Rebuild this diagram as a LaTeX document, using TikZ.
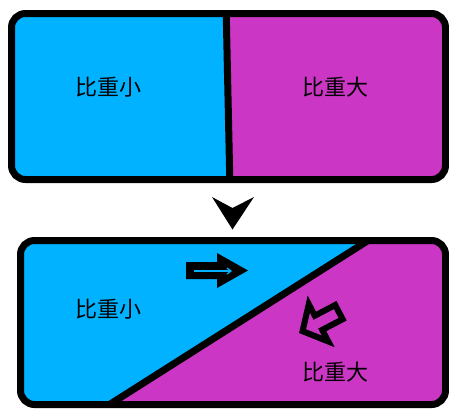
\documentclass[tikz,border=0pt]{standalone}
\usepackage{fontspec}
\newfontfamily\cjk{Noto Sans CJK SC}
\usetikzlibrary{arrows.meta}
\definecolor{lblue}{RGB}{0,178,255}
\definecolor{lmag}{RGB}{204,54,196}
\begin{document}
\begin{tikzpicture}[x=1pt,y=-1pt,line join=miter]
\tikzset{
  lbl/.style={font=\cjk\fontsize{22}{22}\selectfont, inner sep=0pt, text=black},
  frame/.style={line width=7pt, rounded corners=14pt},
  divider/.style={line width=7pt},
  hollowarrow/.style={line width=6pt, draw=black, line join=miter}
}
\useasboundingbox (0,0) rectangle (449,408);
% ---------- top box ----------
\begin{scope}
  \clip[rounded corners=14pt] (11.5,13.5) rectangle (445.5,179.5);
  \fill[lblue] (0,0) -- (226.3,0) -- (229.7,190) -- (0,190) -- cycle;
  \fill[lmag] (226.3,0) -- (449,0) -- (449,190) -- (229.7,190) -- cycle;
  \draw[divider] (226.1,8) -- (229.9,185);
\end{scope}
\draw[frame] (11.5,13.5) rectangle (445.5,179.5);
\node[lbl] (t1) at (108,87) {比重小};
\node[lbl] (t2) at (335,87) {比重大};
% ---------- down arrowhead ----------
\fill (212,197) -- (232.5,208) -- (254,197) -- (232.5,229.5) -- cycle;
% ---------- bottom box ----------
\begin{scope}
  \clip[rounded corners=14pt] (20.5,240.5) rectangle (445.5,404.5);
  \fill[lblue] (0,230) rectangle (449,408);
  \fill[lmag] (368,240.5) -- (449,240.5) -- (449,408) -- (108.6,404.5) -- cycle;
  \draw[divider] (372,238) -- (104,408);
\end{scope}
\draw[frame] (20.5,240.5) rectangle (445.5,404.5);
% right arrow
\fill (186,262) -- (217,262) -- (217,253) -- (248,270.5) -- (217,288) -- (217,279) -- (186,279) -- cycle;
\draw[lblue, line width=1.2pt, -{Straight Barb[length=4pt,width=6pt]}] (194,271) -- (232,271);
% hollow arrow
\begin{scope}[shift={(299,333)}, x={(-0.887pt,-0.464pt)}, y={(0.464pt,-0.887pt)}]
  \draw[hollowarrow] (-4,0) -- (-22,-21) -- (-22,-8) -- (-45,-8) -- (-45,8) -- (-22,8) -- (-22,21) -- cycle;
\end{scope}
\node[lbl] (b1) at (108,309) {比重小};
\node[lbl] (b2) at (335,372) {比重大};
\end{tikzpicture}
\end{document}
